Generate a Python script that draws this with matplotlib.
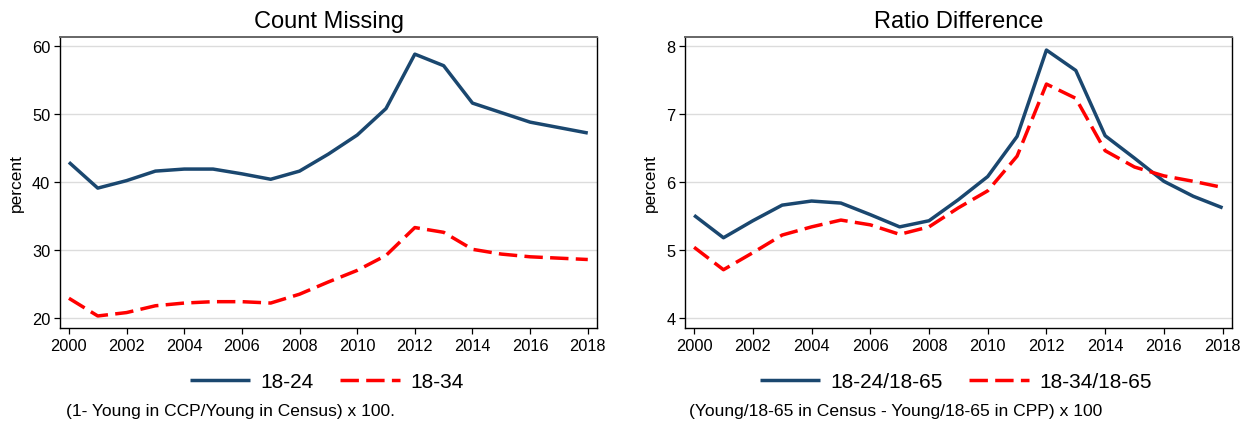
import matplotlib
matplotlib.use("Agg")

import matplotlib.pyplot as plt

# ---------------------------------------------------------------------------
# Data
# ---------------------------------------------------------------------------
years = list(range(2000, 2019))

count_18_24 = [42.9, 39.1, 40.2, 41.6, 41.9, 41.9, 41.2, 40.4, 41.6, 44.1,
               46.9, 50.8, 58.8, 57.1, 51.6, 50.2, 48.8, 48.0, 47.2]
count_18_34 = [22.9, 20.3, 20.8, 21.8, 22.2, 22.4, 22.4, 22.2, 23.5, 25.3,
               27.0, 29.2, 33.3, 32.6, 30.1, 29.4, 29.0, 28.8, 28.6]

ratio_18_24 = [5.51, 5.18, 5.43, 5.66, 5.72, 5.69, 5.52, 5.34, 5.43, 5.74,
               6.08, 6.67, 7.94, 7.64, 6.68, 6.35, 6.01, 5.79, 5.62]
ratio_18_34 = [5.04, 4.71, 4.96, 5.22, 5.34, 5.44, 5.37, 5.23, 5.34, 5.62,
               5.87, 6.38, 7.44, 7.23, 6.46, 6.22, 6.09, 6.01, 5.92]

x_ticks = list(range(2000, 2019, 2))

NAVY = "#1a476f"
RED = "#ff0000"

plt.rcParams["font.family"] = ["Liberation Sans", "DejaVu Sans"]

fig = plt.figure(figsize=(12.51, 4.31), dpi=100)
W, H = 1251, 431


def px_axes(x0, x1, y0, y1):
    return fig.add_axes([x0 / W, 1 - y1 / H, (x1 - x0) / W, (y1 - y0) / H])


def style_axes(ax, yticks, ylim, title):
    ax.set_xlim(1999.69, 2018.32)
    ax.set_ylim(*ylim)
    ax.set_xticks(x_ticks)
    ax.set_yticks(yticks)
    ax.grid(axis="y", color="#dcdcdc", linewidth=1.0)
    ax.set_axisbelow(True)
    ax.tick_params(direction="out", length=4, width=0.9, labelsize=11.8,
                   colors="black", pad=3)
    for side in ("left", "bottom", "right"):
        ax.spines[side].set_color("black")
        ax.spines[side].set_linewidth(1.0)
    ax.spines["top"].set_color("#666666")
    ax.spines["top"].set_linewidth(1.4)
    ax.set_ylabel("percent", fontsize=12.5, labelpad=6)
    ax.set_title(title, fontsize=17, pad=7)


def draw(ax, a, b, la, lb, legend_x, note, note_x, note_size):
    h1, = ax.plot(years, a, color=NAVY, linewidth=2.5, solid_capstyle="butt")
    h2, = ax.plot(years, b, color=RED, linewidth=2.5, linestyle=(0, (5.3, 2.1)))
    fig.legend(handles=[h1, h2], labels=[la, lb], loc="center",
               bbox_to_anchor=(legend_x / W, 1 - 383 / H), ncol=2,
               frameon=False, fontsize=15, handlelength=2.85,
               handletextpad=0.5, columnspacing=1.3)
    fig.text(note_x / W, 1 - 412 / H, note, fontsize=note_size, va="center",
             ha="left")


# ---------------------------------------------------------------------------
# Left panel - Count Missing
# ---------------------------------------------------------------------------
ax1 = px_axes(60, 597, 38, 329)
draw(ax1, count_18_24, count_18_34, "18-24", "18-34", 327,
     "(1- Young in CCP/Young in Census) x 100.", 66, 12.5)
style_axes(ax1, [20, 30, 40, 50, 60], (18.53, 61.32), "Count Missing")

# ---------------------------------------------------------------------------
# Right panel - Ratio Difference
# ---------------------------------------------------------------------------
ax2 = px_axes(685, 1232, 38, 329)
draw(ax2, ratio_18_24, ratio_18_34, "18-24/18-65", "18-34/18-65", 956,
     "(Young/18-65 in Census - Young/18-65 in CPP) x 100", 689, 12.6)
style_axes(ax2, [4, 5, 6, 7, 8], (3.853, 8.132), "Ratio Difference")

fig.savefig("out.png", dpi=100, facecolor="white")
